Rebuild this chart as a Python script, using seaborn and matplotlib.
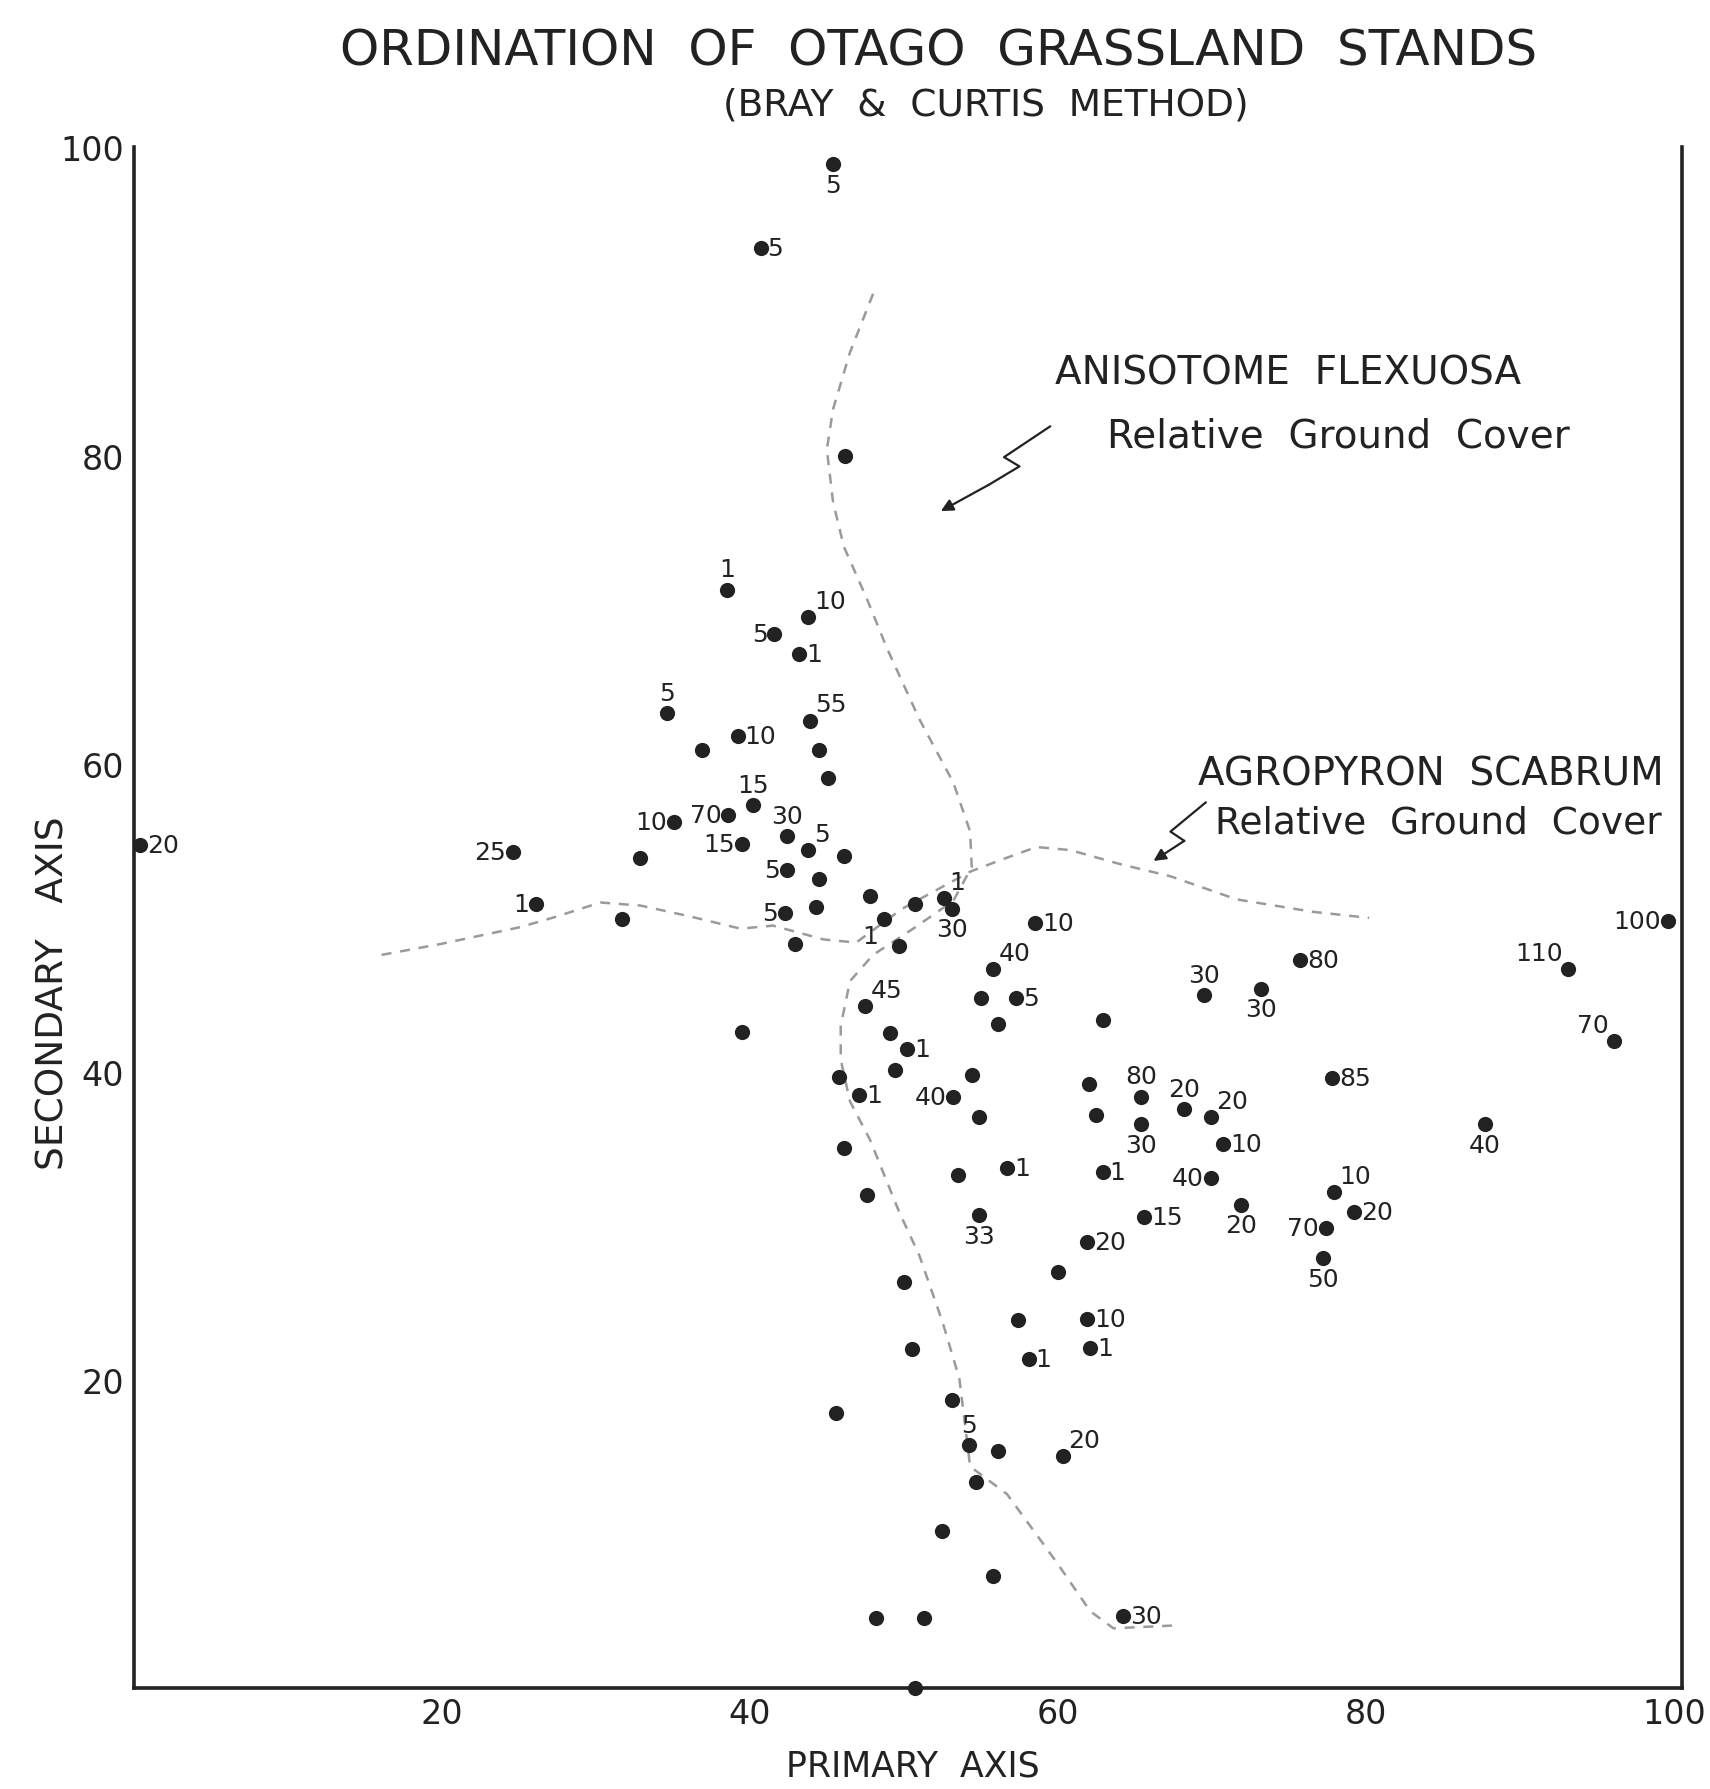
import matplotlib
matplotlib.use("Agg")
import matplotlib.pyplot as plt
import seaborn as sns
import pandas as pd

# ---- stand positions (primary axis, secondary axis) and cover labels ----
stand_x = [45.4, 40.7, 46.2, 38.5, 43.8, 41.6, 43.2, 34.6, 43.9, 36.9,
           39.2, 44.5, 45.1, 40.2, 38.6, 35.1, 39.5, 42.4, 43.8, 46.1,
           24.6, 32.9, 42.4, 44.5, 26.1, 31.7, 42.3, 44.3, 42.9, 0.4,
           47.8, 48.7, 50.7, 52.6, 53.1, 49.7, 58.5, 55.8, 55.0, 57.3,
           47.5, 69.5, 56.1, 62.9, 49.1, 50.2, 49.4, 45.8, 47.1, 53.2,
           54.4, 54.9, 62.0, 62.5, 65.4, 65.4, 68.2, 69.9, 70.7, 69.9,
           46.1, 53.5, 56.7, 62.9, 47.6, 54.9, 65.6, 61.9, 60.0, 50.0,
           57.4, 61.9, 62.1, 50.5, 58.1, 53.1, 45.6, 54.2, 56.1, 60.3,
           54.7, 52.5, 55.8, 48.2, 51.3, 64.2, 50.7, 73.2, 75.7, 77.8,
           71.9, 77.9, 79.2, 77.4, 77.2, 87.7, 99.6, 93.1, 96.1, 39.5]
stand_y = [98.9, 93.5, 80.0, 71.3, 69.5, 68.4, 67.1, 63.3, 62.8, 60.9,
           61.8, 60.9, 59.1, 57.3, 56.7, 56.2, 54.8, 55.3, 54.4, 54.0,
           54.3, 53.9, 53.1, 52.5, 50.9, 49.9, 50.3, 50.7, 48.3, 54.7,
           51.4, 49.9, 50.9, 51.3, 50.6, 48.2, 49.7, 46.7, 44.8, 44.8,
           44.3, 45.0, 43.1, 43.4, 42.5, 41.5, 40.1, 39.7, 38.5, 38.4,
           39.8, 37.1, 39.2, 37.2, 38.4, 36.6, 37.6, 37.1, 35.3, 33.1,
           35.1, 33.3, 33.8, 33.5, 32.0, 30.7, 30.6, 29.0, 27.0, 26.4,
           23.9, 24.0, 22.1, 22.0, 21.4, 18.7, 17.9, 15.8, 15.4, 15.1,
           13.4, 10.2, 7.3, 4.6, 4.6, 4.7, 0.0, 45.4, 47.3, 39.6,
           31.4, 32.2, 30.9, 29.9, 27.9, 36.6, 49.8, 46.7, 42.0, 42.6]
stand_cover = ["5", "5", "", "1", "10", "5", "1", "5", "55", "",
               "10", "", "", "15", "70", "10", "15", "30", "5", "",
               "25", "", "5", "", "1", "", "5", "", "", "20",
               "", "1", "", "1", "30", "", "10", "40", "", "5",
               "45", "30", "", "", "", "1", "", "", "1", "40",
               "", "", "", "", "80", "30", "20", "20", "10", "40",
               "", "", "1", "1", "", "33", "15", "20", "", "",
               "", "10", "1", "", "1", "", "", "5", "", "20",
               "", "", "", "", "", "30", "", "30", "80", "85",
               "20", "10", "20", "70", "50", "40", "100", "110", "70", ""]
# where each label sits relative to its dot
label_side = ["b", "r", "", "a", "ur", "l", "r", "a", "ur", "",
              "r", "", "", "a", "l", "l", "l", "a", "ur", "",
              "l", "", "l", "", "l", "", "l", "", "", "r",
              "", "ll", "", "ur", "b", "", "r", "ur", "", "r",
              "ur", "a", "", "", "", "r", "", "", "r", "l",
              "", "", "", "", "a", "b", "a", "ur", "r", "l",
              "", "", "r", "r", "", "b", "r", "r", "", "",
              "", "r", "r", "", "r", "", "", "a", "", "ur",
              "", "", "", "", "", "r", "", "b", "r", "r",
              "b", "ur", "r", "l", "b", "b", "l", "ul", "ul", ""]

# ---- hand drawn cover contours ----
anisotome_x = [48.0, 46.5, 45.4, 45.0, 45.4, 46.1, 47.6, 48.9, 51.0, 53.2,
               54.3, 54.4, 53.2, 50.6, 48.0, 46.5, 45.9, 45.9, 46.5, 47.8,
               49.7, 51.0, 52.5, 53.6, 54.3, 56.7, 59.9, 62.1, 63.6, 67.9]
anisotome_y = [90.5, 86.7, 83.0, 80.4, 77.0, 74.1, 70.7, 67.5, 62.9, 58.8,
               55.6, 53.3, 51.1, 49.3, 47.6, 45.9, 43.0, 40.8, 38.1, 35.6,
               30.9, 28.1, 23.8, 20.1, 14.4, 12.6, 8.2, 5.0, 3.9, 4.1]
agropyron_x = [16.1, 19.9, 25.1, 27.5, 30.3, 32.9, 36.1, 39.4, 41.5, 44.8,
               46.9, 49.9, 54.3, 56.4, 58.6, 60.8, 64.0, 67.3, 71.6, 76.5, 80.2]
agropyron_y = [47.6, 48.3, 49.4, 50.1, 51.0, 50.8, 50.1, 49.3, 49.5, 48.6,
               48.4, 50.6, 53.0, 53.8, 54.6, 54.4, 53.5, 52.7, 51.2, 50.4, 50.0]

# zig-zag pointers from the captions to the contours
aniso_arrow_x = [59.5, 56.5, 57.5, 55.5, 52.4]
aniso_arrow_y = [81.9, 79.9, 79.3, 78.1, 76.4]
agro_arrow_x = [69.6, 67.3, 68.2, 66.2]
agro_arrow_y = [57.5, 55.6, 55.0, 53.7]

ticks = [20, 40, 60, 80, 100]

df = pd.DataFrame({"x": stand_x, "y": stand_y, "cover": stand_cover, "side": label_side})

sns.set_style("white")
plt.rcParams["font.family"] = ["DejaVu Sans"]
INK = "#222222"

fig = plt.figure(figsize=(17.1, 17.9), dpi=100)
ax = fig.add_axes([0.0781, 0.0562, 0.9055, 0.8609])

# contours
for cx, cy in [(anisotome_x, anisotome_y), (agropyron_x, agropyron_y)]:
    sns.lineplot(x=cx, y=cy, sort=False, estimator=None, ax=ax,
                 color="#9a9a9a", linewidth=1.8, linestyle=(0, (4, 3.5)))

# stands
sns.scatterplot(data=df, x="x", y="y", ax=ax, s=120, color=INK,
                edgecolor=INK, linewidth=0, clip_on=False, zorder=5)

offsets = {"r": (5, 0, "left", "center"), "l": (-5, 0, "right", "center"),
           "a": (0, 6, "center", "bottom"), "b": (0, -6, "center", "top"),
           "ur": (4, 3, "left", "bottom"), "ul": (-4, 3, "right", "bottom"),
           "ll": (-4, -3, "right", "top")}
for _, row in df.iterrows():
    if not row["cover"]:
        continue
    dx, dy, ha, va = offsets[row["side"]]
    ax.annotate(row["cover"], (row["x"], row["y"]), xytext=(dx, dy),
                textcoords="offset points", ha=ha, va=va, fontsize=18,
                color=INK, zorder=6)

# pointers
for px, py in [(aniso_arrow_x, aniso_arrow_y), (agro_arrow_x, agro_arrow_y)]:
    ax.plot(px[:-1], py[:-1], color=INK, lw=1.6)
    ax.annotate("", xy=(px[-1], py[-1]), xytext=(px[-2], py[-2]),
                arrowprops=dict(arrowstyle="-|>", color=INK, lw=1.6,
                                mutation_scale=18, shrinkA=0, shrinkB=0))

ax.text(59.8, 85.4, "ANISOTOME  FLEXUOSA", fontsize=28, color=INK, va="center")
ax.text(63.2, 81.3, "Relative  Ground  Cover", fontsize=28, color=INK, va="center")
ax.text(69.1, 59.4, "AGROPYRON  SCABRUM", fontsize=28, color=INK, va="center")
ax.text(70.2, 56.2, "Relative  Ground  Cover", fontsize=27, color=INK, va="center")

ax.set_xlim(0, 100.5)
ax.set_ylim(0, 100)
ax.set_xticks(ticks)
ax.set_yticks(ticks)
ax.tick_params(axis="x", direction="in", length=12, width=1.6, pad=6,
               labelsize=24, colors=INK)
ax.tick_params(axis="y", direction="out", length=6, width=1.6, pad=1,
               labelsize=24, colors=INK)

for side in ["left", "bottom", "right"]:
    ax.spines[side].set_linewidth(2.6)
    ax.spines[side].set_color(INK)
ax.spines["top"].set_visible(False)

ax.set_xlabel("PRIMARY  AXIS", fontsize=25, color=INK)
ax.set_ylabel("SECONDARY   AXIS", fontsize=27, color=INK)
ax.xaxis.set_label_coords(0.503, -0.039)
ax.yaxis.set_label_coords(-0.040, 0.452)

fig.text(0.549, 0.9715, "ORDINATION  OF  OTAGO  GRASSLAND  STANDS",
         ha="center", va="center", fontsize=36, color=INK)
fig.text(0.5767, 0.941, "(BRAY  &  CURTIS  METHOD)",
         ha="center", va="center", fontsize=27, color=INK)

fig.savefig("out.png", dpi=100, facecolor="white")
